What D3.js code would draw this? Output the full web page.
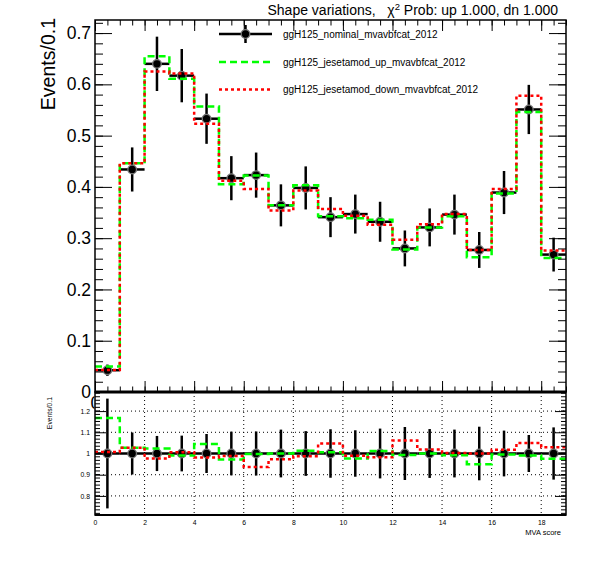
<!DOCTYPE html>
<html><head><meta charset="utf-8">
<script src="https://cdn.jsdelivr.net/npm/d3@7"></script>
<style>
body{margin:0;background:#fff}
text{font-family:"Liberation Sans",Arial,Helvetica,sans-serif;fill:#000}
</style>
</head><body>
<svg id="c" width="596" height="572" xmlns="http://www.w3.org/2000/svg"></svg>
<script>
// ---------------- data ----------------
const nBins = 19;                 // MVA score bins [0,19), width 1
const nominal    = [0.0425,0.434,0.640,0.617,0.533,0.417,0.423,0.364,0.398,0.341,0.347,0.332,0.280,0.321,0.346,0.277,0.389,0.551,0.268];
const nominalErr = [0.011,0.043,0.053,0.052,0.049,0.043,0.044,0.041,0.042,0.039,0.038,0.039,0.035,0.037,0.039,0.035,0.042,0.048,0.033];
const upVals     = [0.0496,0.446,0.655,0.611,0.557,0.405,0.422,0.364,0.403,0.343,0.339,0.336,0.278,0.321,0.343,0.263,0.387,0.546,0.2615];
const downVals   = [0.0428,0.446,0.625,0.621,0.523,0.412,0.396,0.354,0.393,0.357,0.3435,0.326,0.297,0.327,0.347,0.277,0.396,0.578,0.276];
const legendLabels = ["ggH125_nominal_mvavbfcat_2012","ggH125_jesetamod_up_mvavbfcat_2012","ggH125_jesetamod_down_mvavbfcat_2012"];
const topYTicks   = [0,0.1,0.2,0.3,0.4,0.5,0.6,0.7];
const ratioYTicks = [0.8,0.9,1,1.1,1.2];
const xTicks      = [0,2,4,6,8,10,12,14,16,18];
const titleParts  = ["Shape variations,   \u03c7","2"," Prob: up 1.000, dn 1.000"];

// ---------------- layout ----------------
const L=95, R=566, T1=20, B1=392, T2=392, B2=515;
const svg = d3.select("#c");
const x  = d3.scaleLinear([0,19],[L,R]);
const y1 = d3.scaleLinear([0,0.7255],[B1,T1]);
const y2 = d3.scaleLinear([0.71,1.29],[B2,T2]);
const bins = d3.range(nBins);
const ratioNom  = nominal.map(()=>1);
const ratioErr  = nominalErr.map((e,i)=>e/nominal[i]);
const ratioUp   = upVals.map((v,i)=>v/nominal[i]);
const ratioDown = downVals.map((v,i)=>v/nominal[i]);

const defs = svg.append("defs");
defs.append("clipPath").attr("id","cp1").append("rect").attr("x",L).attr("y",T1).attr("width",R-L).attr("height",B1-T1);
defs.append("clipPath").attr("id","cp2").append("rect").attr("x",L).attr("y",T2).attr("width",R-L).attr("height",B2-T2);
defs.append("clipPath").attr("id","cp0").append("rect").attr("x",80).attr("y",394).attr("width",14.3).attr("height",20);

const COLORS = {nom:"#000", up:"#00ff00", down:"#ff0000"};
const STYLES = {up:"7,4", down:"3,3"};

function stepPath(vals, ys){
  const pts = vals.map((v,i)=>[i,v]); pts.push([nBins, vals[nBins-1]]);
  return d3.line().x(d=>x(d[0])).y(d=>ys(d[1])).curve(d3.curveStepAfter)(pts);
}
function drawStep(g, vals, ys, key){
  g.append("path").attr("d",stepPath(vals,ys)).attr("fill","none")
    .attr("stroke",COLORS[key]).attr("stroke-width",2.5).attr("stroke-dasharray",STYLES[key]);
}
function drawPoints(g, vals, errs, ys){
  const e = g.append("g").attr("stroke","#000").attr("stroke-width",2.5);
  bins.forEach(i=>{
    e.append("line").attr("x1",x(i)).attr("x2",x(i+1)).attr("y1",ys(vals[i])).attr("y2",ys(vals[i]));
    e.append("line").attr("x1",x(i+0.5)).attr("x2",x(i+0.5)).attr("y1",ys(vals[i]-errs[i])).attr("y2",ys(vals[i]+errs[i]));
  });
  g.append("g").selectAll("circle").data(bins).join("circle")
    .attr("cx",i=>x(i+0.5)).attr("cy",i=>ys(vals[i])).attr("r",4.3)
    .attr("fill","#000").attr("stroke","#777").attr("stroke-width",1.3);
}

// ---------------- top panel ----------------
const p1 = svg.append("g").attr("clip-path","url(#cp1)");
drawPoints(p1, nominal, nominalErr, y1);
drawStep(p1, upVals, y1, "up");
drawStep(p1, downVals, y1, "down");

// ---------------- bottom panel ----------------
const p2 = svg.append("g").attr("clip-path","url(#cp2)");
const grid = p2.append("g").attr("stroke","#000").attr("stroke-width",1).attr("stroke-dasharray","1,3");
xTicks.filter(t=>t>0).forEach(t=>grid.append("line").attr("x1",x(t)).attr("x2",x(t)).attr("y1",T2).attr("y2",B2));
ratioYTicks.forEach(t=>grid.append("line").attr("x1",L).attr("x2",R).attr("y1",y2(t)).attr("y2",y2(t)));
drawPoints(p2, ratioNom, ratioErr, y2);
drawStep(p2, ratioUp, y2, "up");
drawStep(p2, ratioDown, y2, "down");

// ---------------- axes ----------------
function styleAxis(g){ g.select(".domain").remove(); g.selectAll(".tick line").attr("stroke","#000").attr("stroke-width",1); }
function addAxis(axis, tx, ty){ const g=svg.append("g").attr("transform",`translate(${tx},${ty})`).call(axis); styleAxis(g); return g; }
const minorTop = d3.range(0,0.7256,0.02);
const minorX = d3.range(0,19.01,0.5);
const minorRatio = d3.range(0.72,1.2901,0.1/6);

// top panel y
const yl = addAxis(d3.axisLeft(y1).tickValues(topYTicks).tickSize(-17).tickPadding(4).tickFormat(d=>d===0?"0":d3.format(".1f")(d)), L, 0);
yl.selectAll("text").attr("font-size",17.5).attr("font-family","Liberation Sans, Arial, sans-serif");
addAxis(d3.axisLeft(y1).tickValues(minorTop).tickSize(-8).tickFormat(""), L, 0);
addAxis(d3.axisRight(y1).tickValues(topYTicks).tickSize(-17).tickFormat(""), R, 0);
addAxis(d3.axisRight(y1).tickValues(minorTop).tickSize(-8).tickFormat(""), R, 0);
// top panel x
addAxis(d3.axisBottom(x).tickValues(xTicks).tickSize(-11).tickFormat(""), 0, B1);
addAxis(d3.axisBottom(x).tickValues(minorX).tickSize(-5.5).tickFormat(""), 0, B1);
addAxis(d3.axisTop(x).tickValues(xTicks).tickSize(-11).tickFormat(""), 0, T1);
addAxis(d3.axisTop(x).tickValues(minorX).tickSize(-5.5).tickFormat(""), 0, T1);
// bottom panel y
const ry = addAxis(d3.axisLeft(y2).tickValues(ratioYTicks).tickSize(-11).tickPadding(5).tickFormat(d=>d===1?"1":d3.format(".1f")(d)), L, 0);
ry.selectAll("text").attr("font-size",6.8);
addAxis(d3.axisLeft(y2).tickValues(minorRatio).tickSize(-5).tickFormat(""), L, 0);
addAxis(d3.axisRight(y2).tickValues(ratioYTicks).tickSize(-11).tickFormat(""), R, 0);
addAxis(d3.axisRight(y2).tickValues(minorRatio).tickSize(-5).tickFormat(""), R, 0);
// bottom panel x labels
const rx = addAxis(d3.axisBottom(x).tickValues(xTicks).tickSize(0).tickPadding(5).tickFormat(d=>String(d)), 0, B2);
rx.selectAll("text").attr("font-size",6.8);

// frames
const fr = svg.append("g").attr("fill","none").attr("stroke","#000");
fr.append("rect").attr("x",L).attr("y",T1).attr("width",R-L).attr("height",B1-T1).attr("stroke-width",1.5);
fr.append("rect").attr("x",L).attr("y",T2).attr("width",R-L).attr("height",B2-T2).attr("stroke-width",1.5);
fr.append("line").attr("x1",L).attr("x2",R).attr("y1",B1).attr("y2",B1).attr("stroke-width",3);
fr.append("line").attr("x1",L).attr("x2",R).attr("y1",B2).attr("y2",B2).attr("stroke-width",2);

// clipped overflowing "0" label of ratio panel
svg.append("text").attr("clip-path","url(#cp0)").attr("x",90.6).attr("y",409).attr("font-size",17.5).text("0");

// axis titles
svg.append("text").attr("transform","translate(55,18) rotate(-90)").attr("text-anchor","end").attr("font-size",19.5).text("Events/0.1");
svg.append("text").attr("transform","translate(51.5,397) rotate(-90)").attr("text-anchor","end").attr("font-size",6.8).text("Events/0.1");
svg.append("text").attr("x",561).attr("y",535).attr("text-anchor","end").attr("font-size",7.5).text("MVA score");

// title
const tt = svg.append("text").attr("x",558).attr("y",15).attr("text-anchor","end").attr("font-size",14).style("white-space","pre");
tt.append("tspan").text(titleParts[0]);
tt.append("tspan").attr("dy",-5).attr("font-size",9.5).text(titleParts[1]);
tt.append("tspan").attr("dy",5).text(titleParts[2]);

// legend
const lg = svg.append("g");
const rowsY = [34,62,89.5];
const lx1=219, lx2=272, lxc=245.5;
lg.append("line").attr("x1",lx1).attr("x2",lx2).attr("y1",rowsY[0]).attr("y2",rowsY[0]).attr("stroke","#000").attr("stroke-width",2.5);
lg.append("line").attr("x1",lxc).attr("x2",lxc).attr("y1",rowsY[0]-9).attr("y2",rowsY[0]+9).attr("stroke","#000").attr("stroke-width",2.5);
lg.append("circle").attr("cx",lxc).attr("cy",rowsY[0]).attr("r",4.3).attr("fill","#000").attr("stroke","#777").attr("stroke-width",1.3);
lg.append("line").attr("x1",lx1).attr("x2",lx2).attr("y1",rowsY[1]).attr("y2",rowsY[1]).attr("stroke",COLORS.up).attr("stroke-width",2.5).attr("stroke-dasharray",STYLES.up);
lg.append("line").attr("x1",lx1).attr("x2",lx2).attr("y1",rowsY[2]).attr("y2",rowsY[2]).attr("stroke",COLORS.down).attr("stroke-width",2.5).attr("stroke-dasharray",STYLES.down);
legendLabels.forEach((t,i)=>lg.append("text").attr("x",283).attr("y",rowsY[i]+3.5).attr("font-size",10).text(t));
</script>
</body></html>
